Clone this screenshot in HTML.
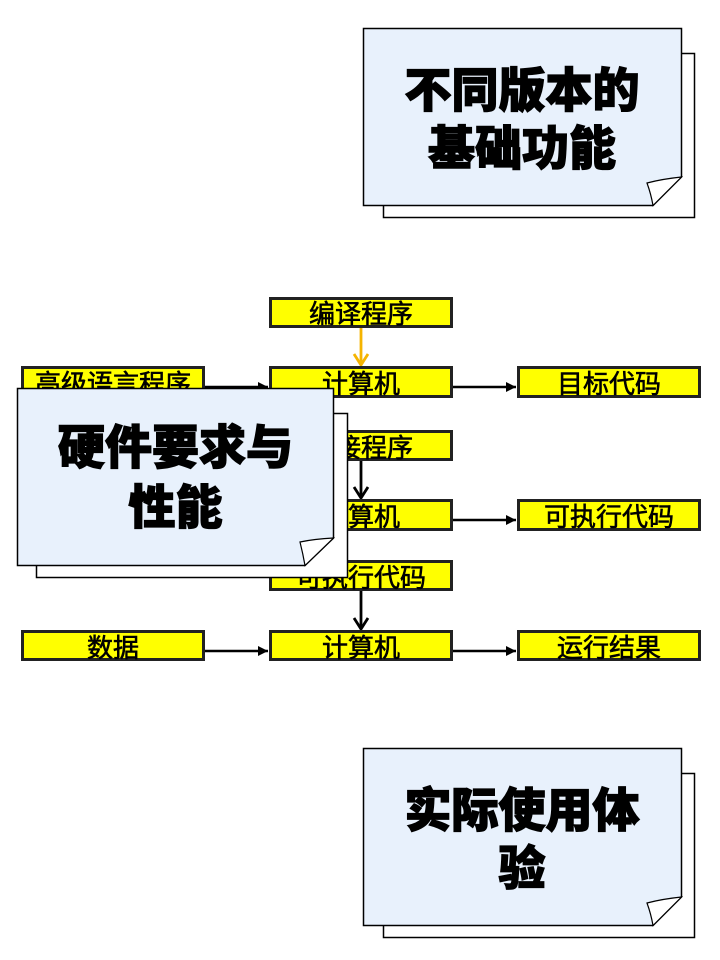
<!DOCTYPE html>
<html><head><meta charset="utf-8"><style>
html,body{margin:0;padding:0;background:#fff;}
svg{display:block;}
.bt{font-family:"Liberation Sans","Noto Sans CJK SC",sans-serif;font-size:26px;font-weight:400;fill:#000;stroke:#000;stroke-width:0.6;text-anchor:middle;}
.big{font-family:"Liberation Sans","Noto Sans CJK SC",sans-serif;font-size:47px;font-weight:900;fill:#000;stroke:#000;stroke-width:1.3;text-anchor:middle;}
</style></head><body>
<svg width="720" height="960" viewBox="0 0 720 960" xmlns="http://www.w3.org/2000/svg">
<defs>
<marker id="ah" markerWidth="12" markerHeight="12" refX="10" refY="5" orient="auto" markerUnits="userSpaceOnUse">
<path d="M0,0 L10,5 L0,10 Z" fill="#000"/>
</marker>
</defs>
<rect width="720" height="960" fill="#fff"/>

<!-- Card 1 -->
<rect x="383.5" y="53.5" width="311" height="164" fill="#fff" stroke="#000" stroke-width="1.5"/>
<path d="M363.5,28.5 H681.5 V177 L653,205.5 H363.5 Z" fill="#e8f1fc" stroke="#000" stroke-width="1.5"/>
<path d="M681.5,177 Q662,179 647,183 Q651,194 653,205.5 Z" fill="#fff" stroke="#000" stroke-width="1.2"/>
<text class="big" x="522" y="107">不同版本的</text>
<text class="big" x="522" y="165">基础功能</text>

<!-- Diagram connectors -->
<g stroke="#000" stroke-width="2.5">
<line x1="205" y1="387" x2="268" y2="387" marker-end="url(#ah)"/>
<line x1="453" y1="387" x2="516" y2="387" marker-end="url(#ah)"/>
<line x1="205" y1="520" x2="268" y2="520" marker-end="url(#ah)"/>
<line x1="453" y1="520" x2="516" y2="520" marker-end="url(#ah)"/>
<line x1="205" y1="651" x2="268" y2="651" marker-end="url(#ah)"/>
<line x1="453" y1="651" x2="516" y2="651" marker-end="url(#ah)"/>
</g>

<line x1="361" y1="328" x2="361" y2="365" stroke="#f5b400" stroke-width="2.8"/>
<path d="M354,354 L361,365 L368,354" fill="none" stroke="#f5b400" stroke-width="2.8"/>
<line x1="361" y1="461" x2="361" y2="498" stroke="#000" stroke-width="2.8"/>
<path d="M354,487 L361,498 L368,487" fill="none" stroke="#000" stroke-width="2.8"/>
<line x1="361" y1="591" x2="361" y2="629" stroke="#000" stroke-width="2.8"/>
<path d="M354,618 L361,629 L368,618" fill="none" stroke="#000" stroke-width="2.8"/>

<!-- Boxes -->
<g fill="#ffff00" stroke="#222" stroke-width="3">
<rect x="270.5" y="298.5" width="181" height="28"/>
<rect x="22.5" y="367.5" width="181" height="29"/>
<rect x="270.5" y="367.5" width="181" height="29"/>
<rect x="518.5" y="367.5" width="181" height="29"/>
<rect x="270.5" y="431.5" width="181" height="28"/>
<rect x="22.5" y="500.5" width="181" height="29"/>
<rect x="270.5" y="500.5" width="181" height="29"/>
<rect x="518.5" y="500.5" width="181" height="29"/>
<rect x="270.5" y="561.5" width="181" height="28"/>
<rect x="22.5" y="631.5" width="181" height="28"/>
<rect x="270.5" y="631.5" width="181" height="28"/>
<rect x="518.5" y="631.5" width="181" height="28"/>
</g>
<text class="bt" x="361" y="323">编译程序</text>
<text class="bt" x="113" y="393">高级语言程序</text>
<text class="bt" x="361" y="393">计算机</text>
<text class="bt" x="609" y="393">目标代码</text>
<text class="bt" x="361" y="457">连接程序</text>
<text class="bt" x="113" y="526">目标代码</text>
<text class="bt" x="361" y="526">计算机</text>
<text class="bt" x="609" y="526">可执行代码</text>
<text class="bt" x="361" y="587">可执行代码</text>
<text class="bt" x="113" y="657">数据</text>
<text class="bt" x="361" y="657">计算机</text>
<text class="bt" x="609" y="657">运行结果</text>

<!-- Card 2 -->
<rect x="36.5" y="413.5" width="311" height="164" fill="#fff" stroke="#000" stroke-width="1.5"/>
<path d="M17.5,388.5 H333.5 V538 L305,565.5 H17.5 Z" fill="#e8f1fc" stroke="#000" stroke-width="1.5"/>
<path d="M333.5,538 Q314,539 300,542 Q303,554 305,565.5 Z" fill="#fff" stroke="#000" stroke-width="1.2"/>
<text class="big" x="175.5" y="464">硬件要求与</text>
<text class="big" x="175.5" y="524">性能</text>

<!-- Card 3 -->
<rect x="383.5" y="773.5" width="311" height="164" fill="#fff" stroke="#000" stroke-width="1.5"/>
<path d="M363.5,748.5 H681.5 V897 L653,925.5 H363.5 Z" fill="#e8f1fc" stroke="#000" stroke-width="1.5"/>
<path d="M681.5,897 Q662,899 647,903 Q651,914 653,925.5 Z" fill="#fff" stroke="#000" stroke-width="1.2"/>
<text class="big" x="522" y="827">实际使用体</text>
<text class="big" x="522" y="885">验</text>
</svg>
</body></html>
